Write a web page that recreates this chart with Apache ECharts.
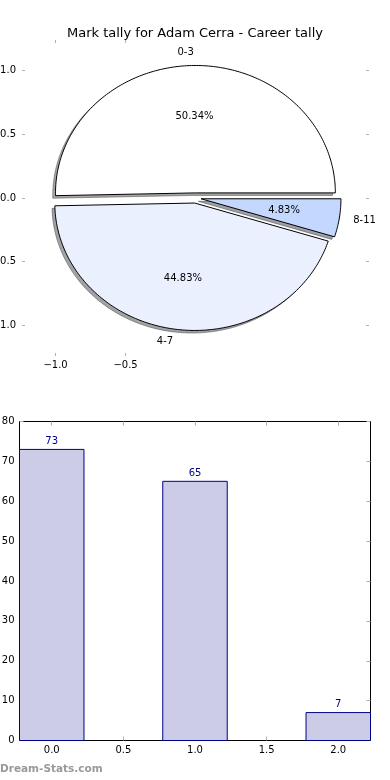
<!DOCTYPE html>
<html><head><meta charset="utf-8">
<script src="https://cdn.jsdelivr.net/npm/echarts@6/dist/echarts.min.js"></script>
<style>html,body{margin:0;padding:0;background:#fff}#c{width:390px;height:780px}</style>
</head><body><div id="c"></div>
<script>
const titleText = 'Mark tally for Adam Cerra - Career tally';
const pieLabels = ['0-3', '4-7', '8-11'];
const pieValues = [73, 65, 7];
const pieColors = ['#ffffff', '#eaf0fd', '#c4d7fe'];
const pieExplode = [0.04, 0.04, 0.04];
const pieXTicks = [-1.0, -0.5];
const pieYTicks = [-1.0, -0.5, 0, 0.5, 1.0];
const barX = [0, 1, 2];
const barValues = [73, 65, 7];
const barXTicks = [0, 0.5, 1.0, 1.5, 2.0];
const watermark = 'Dream-Stats.com';

const FONT = 'DejaVu Sans';
const total = pieValues.reduce((a, b) => a + b, 0);
let acc = 0;
const wedges = pieValues.map((v, i) => {
  const t1 = acc / total * 360; acc += v; const t2 = acc / total * 360;
  return [t1, t2, i];
});

function hexToRgb(h) { return [parseInt(h.slice(1,3),16), parseInt(h.slice(3,5),16), parseInt(h.slice(5,7),16)]; }
function wedgePts(api, t1, t2, ex, dx, dy) {
  const mid = (t1 + t2) / 2 * Math.PI / 180;
  const cx = ex * Math.cos(mid) + dx, cy = ex * Math.sin(mid) + dy;
  const pts = [api.coord([cx, cy])];
  const n = Math.max(4, Math.ceil(t2 - t1));
  for (let k = 0; k <= n; k++) {
    const a = (t1 + (t2 - t1) * k / n) * Math.PI / 180;
    pts.push(api.coord([cx + Math.cos(a), cy + Math.sin(a)]));
  }
  return pts;
}

const tickStyle = { color: '#b0b0b0', width: 1 };
const pieLim = 1.24;
const fmt1 = v => (v < 0 ? '\u2212' : '') + Math.abs(v).toFixed(1);
const frameLine = { show: true, onZero: false, lineStyle: { color: '#000', width: 1 } };
const noLine = { show: false, onZero: false };

const chart = echarts.init(document.getElementById('c'), null, { renderer: 'canvas' });
chart.setOption({
  animation: false,
  backgroundColor: '#ffffff',
  title: { text: titleText, left: 'center', top: 22, textStyle: { fontFamily: FONT, fontSize: 13, fontWeight: 'normal', color: '#000' } },
  graphic: [{ type: 'text', left: 0, top: 764, style: { text: watermark, fill: '#999999', font: 'bold 10.5px ' + FONT } }],
  grid: [
    { left: 22, right: 21, top: 40, height: 316, containLabel: false, outerBoundsMode: 'none' },
    { left: 19.5, right: 19.5, top: 421.5, height: 319, containLabel: false, outerBoundsMode: 'none' }
  ],
  xAxis: [
    { gridIndex: 0, type: 'value', position: 'bottom', min: -pieLim, max: pieLim, axisLine: noLine, splitLine: { show: false },
      axisTick: { inside: true, length: 3, customValues: pieXTicks, lineStyle: tickStyle },
      axisLabel: { customValues: pieXTicks, formatter: fmt1, margin: 4, fontFamily: FONT, fontSize: 10, color: '#000' } },
    { gridIndex: 0, type: 'value', position: 'top', min: -pieLim, max: pieLim, axisLine: noLine, splitLine: { show: false },
      axisTick: { inside: true, length: 3, customValues: pieXTicks, lineStyle: tickStyle }, axisLabel: { show: false } },
    { gridIndex: 1, type: 'value', position: 'bottom', min: -0.225, max: 2.225, axisLine: frameLine, splitLine: { show: false },
      axisTick: { inside: true, length: 4, customValues: barXTicks, lineStyle: tickStyle },
      axisLabel: { customValues: barXTicks, formatter: v => v.toFixed(1), margin: 5, fontFamily: FONT, fontSize: 10, color: '#000' } },
    { gridIndex: 1, type: 'value', position: 'top', min: -0.225, max: 2.225, axisLine: frameLine, splitLine: { show: false },
      axisTick: { inside: true, length: 4, customValues: barXTicks, lineStyle: tickStyle }, axisLabel: { show: false } }
  ],
  yAxis: [
    { gridIndex: 0, type: 'value', position: 'left', min: -pieLim, max: pieLim, axisLine: noLine, splitLine: { show: false },
      axisTick: { inside: true, length: 3, customValues: pieYTicks, lineStyle: tickStyle },
      axisLabel: { customValues: pieYTicks, formatter: fmt1, margin: 6, fontFamily: FONT, fontSize: 10, color: '#000' } },
    { gridIndex: 0, type: 'value', position: 'right', min: -pieLim, max: pieLim, axisLine: noLine, splitLine: { show: false },
      axisTick: { inside: true, length: 3, customValues: pieYTicks, lineStyle: tickStyle }, axisLabel: { show: false } },
    { gridIndex: 1, type: 'value', position: 'left', min: 0, max: 80, interval: 10, axisLine: frameLine, splitLine: { show: false },
      axisTick: { inside: true, length: 4, lineStyle: tickStyle },
      axisLabel: { margin: 5, fontFamily: FONT, fontSize: 10, color: '#000' } },
    { gridIndex: 1, type: 'value', position: 'right', min: 0, max: 80, interval: 10, axisLine: frameLine, splitLine: { show: false },
      axisTick: { inside: true, length: 4, lineStyle: tickStyle }, axisLabel: { show: false } }
  ],
  series: [
    { type: 'custom', xAxisIndex: 0, yAxisIndex: 0, z: 1, clip: false, data: wedges,
      renderItem: (params, api) => {
        const i = api.value(2), c = hexToRgb(pieColors[i]);
        const col = `rgba(${Math.round(c[0]*0.3)},${Math.round(c[1]*0.3)},${Math.round(c[2]*0.3)},0.5)`;
        return { type: 'polygon', shape: { points: wedgePts(api, api.value(0), api.value(1), pieExplode[i], -0.02, -0.02) },
          style: { fill: col, stroke: col, lineWidth: 1 } };
      } },
    { type: 'custom', xAxisIndex: 0, yAxisIndex: 0, z: 2, clip: false, data: wedges,
      renderItem: (params, api) => {
        const i = api.value(2);
        return { type: 'polygon', shape: { points: wedgePts(api, api.value(0), api.value(1), pieExplode[i], 0, 0) },
          style: { fill: pieColors[i], stroke: '#000', lineWidth: 1, lineJoin: 'miter' } };
      } },
    { type: 'custom', xAxisIndex: 0, yAxisIndex: 0, z: 3, clip: false, data: wedges,
      renderItem: (params, api) => {
        const i = api.value(2), t1 = api.value(0), t2 = api.value(1);
        const mid = (t1 + t2) / 2 * Math.PI / 180, ex = pieExplode[i];
        const ux = Math.cos(mid), uy = Math.sin(mid);
        const lp = api.coord([(1.1 + ex) * ux, (1.1 + ex) * uy]);
        const pp = api.coord([(0.6 + ex) * ux, (0.6 + ex) * uy]);
        return { type: 'group', children: [
          { type: 'text', x: lp[0], y: lp[1], style: { text: pieLabels[i], fill: '#000', font: '10px ' + FONT, align: ux > 0 ? 'left' : 'right', verticalAlign: 'middle' } },
          { type: 'text', x: pp[0], y: pp[1], style: { text: (pieValues[i] / total * 100).toFixed(2) + '%', fill: '#000', font: '10px ' + FONT, align: 'center', verticalAlign: 'middle' } }
        ] };
      } },
    { type: 'custom', xAxisIndex: 2, yAxisIndex: 2, z: 2, clip: false, data: barX.map((x, i) => [x, barValues[i]]),
      renderItem: (params, api) => {
        const x = api.value(0), y = api.value(1);
        const p1 = api.coord([x - 0.225, y]), p2 = api.coord([x + 0.225, 0]);
        return { type: 'group', children: [
          { type: 'rect', shape: { x: p1[0], y: p1[1], width: p2[0] - p1[0], height: p2[1] - p1[1] }, style: { fill: '#ccccE6', stroke: '#00008b', lineWidth: 1 } },
          { type: 'text', x: (p1[0] + p2[0]) / 2, y: p1[1] - 3, style: { text: String(y), fill: '#00008b', font: '10px ' + FONT, align: 'center', verticalAlign: 'bottom' } }
        ] };
      } }
  ]
});
</script></body></html>
